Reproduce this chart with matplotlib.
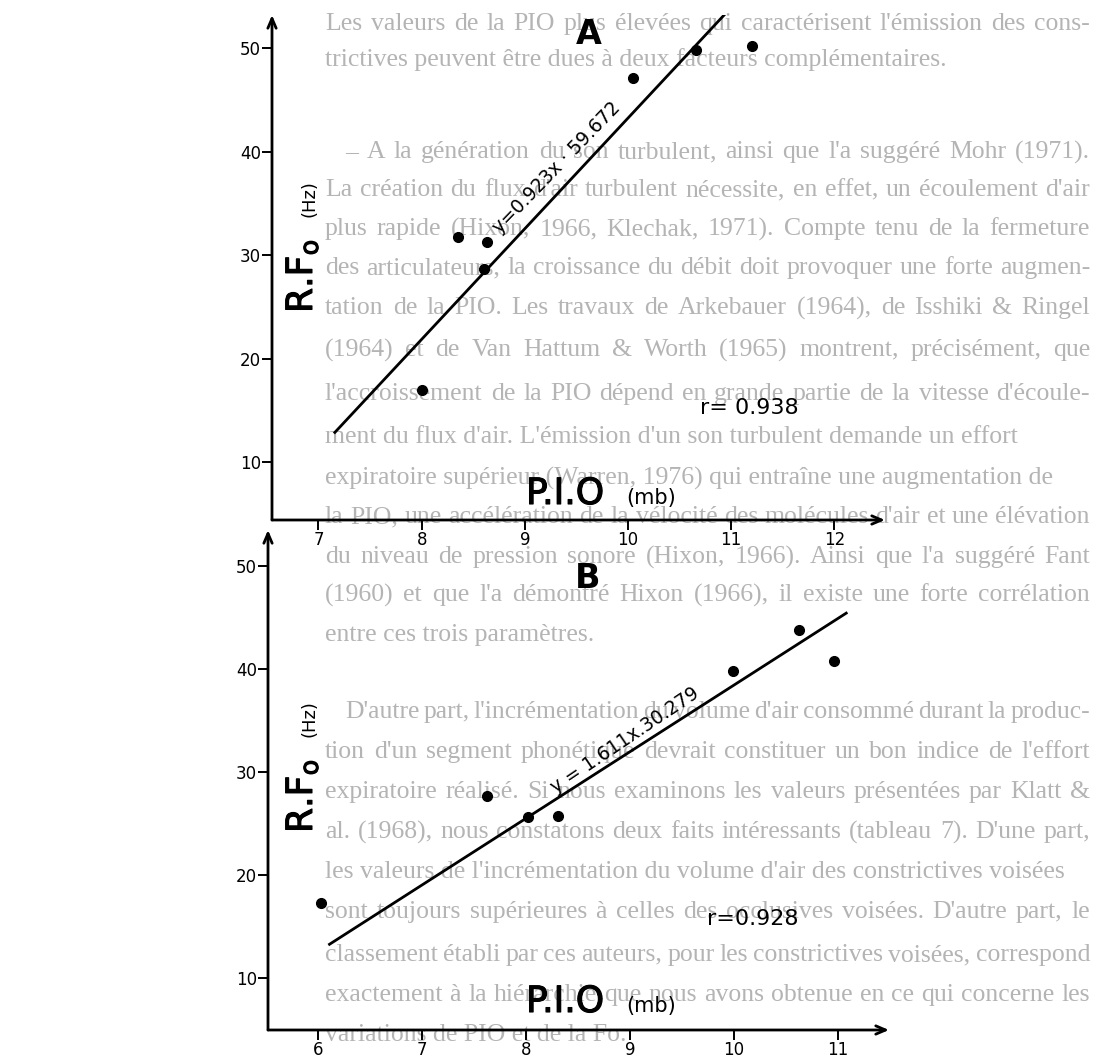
import matplotlib
matplotlib.use("Agg")
import matplotlib.pyplot as plt
import matplotlib.patheffects as pe

W, H = 1096, 1057

# panel A : P.I.O (mb) vs R.Fo (Hz)
a_x = [8.0, 8.35, 8.60, 8.63, 10.05, 10.66, 11.2]
a_y = [17.0, 31.8, 28.7, 31.3, 47.1, 49.8, 50.2]
a_fit_x = [7.15, 10.95]
a_fit_y = [12.8, 53.4]
a_xticks = [7, 8, 9, 10, 11, 12]
a_eq = "y=0.923x · 59.672"
a_r = "r= 0.938"

# panel B
b_x = [6.03, 7.63, 8.02, 8.31, 9.99, 10.62, 10.96]
b_y = [17.3, 27.7, 25.6, 25.7, 39.8, 43.8, 40.8]
b_fit_x = [6.1, 11.09]
b_fit_y = [13.2, 45.5]
b_xticks = [6, 7, 8, 9, 10, 11]
b_eq = "y = 1.611x.30.279"
b_r = "r=0.928"

yticks = [10, 20, 30, 40, 50]

# page text showing through the scan
page_lines = [
    "Les valeurs de la PIO plus élevées qui caractérisent l'émission des cons-",
    "trictives peuvent être dues à deux facteurs complémentaires.",
    "– A la génération du son turbulent, ainsi que l'a suggéré Mohr (1971).",
    "La création du flux d'air turbulent nécessite, en effet, un écoulement d'air",
    "plus rapide (Hixon, 1966, Klechak, 1971). Compte tenu de la fermeture",
    "des articulateurs, la croissance du débit doit provoquer une forte augmen-",
    "tation de la PIO. Les travaux de Arkebauer (1964), de Isshiki & Ringel",
    "(1964) et de Van Hattum & Worth (1965) montrent, précisément, que",
    "l'accroissement de la PIO dépend en grande partie de la vitesse d'écoule-",
    "ment du flux d'air. L'émission d'un son turbulent demande un effort",
    "expiratoire supérieur (Warren, 1976) qui entraîne une augmentation de",
    "la PIO, une accélération de la vélocité des molécules d'air et une élévation",
    "du niveau de pression sonore (Hixon, 1966). Ainsi que l'a suggéré Fant",
    "(1960) et que l'a démontré Hixon (1966), il existe une forte corrélation",
    "entre ces trois paramètres.",
    "D'autre part, l'incrémentation du volume d'air consommé durant la produc-",
    "tion d'un segment phonétique devrait constituer un bon indice de l'effort",
    "expiratoire réalisé. Si nous examinons les valeurs présentées par Klatt &",
    "al. (1968), nous constatons deux faits intéressants (tableau 7). D'une part,",
    "les valeurs de l'incrémentation du volume d'air des constrictives voisées",
    "sont toujours supérieures à celles des occlusives voisées. D'autre part, le",
    "classement établi par ces auteurs, pour les constrictives voisées, correspond",
    "exactement à la hiérarchie que nous avons obtenue en ce qui concerne les",
    "variations de PIO et de la Fo.",
]
page_y = [24, 60, 152, 190, 229, 268, 308, 350, 394, 437, 478, 517, 557, 595,
          635, 712, 752, 792, 832, 872, 912, 955, 995, 1035]
page_left = [325, 325, 345, 325, 325, 325, 325, 325, 325, 325, 325, 325, 325,
             325, 325, 345, 325, 325, 325, 325, 325, 325, 325, 325]
page_right = [1090, None, 1090, 1090, 1090, 1090, 1090, 1090, 1090, None, None,
              1090, 1090, 1090, None, 1090, 1090, 1090, 1090, None, 1090, 1090,
              1090, None]

plt.rcParams['font.family'] = ['DejaVu Sans']

fig = plt.figure(figsize=(W / 100, H / 100), dpi=100)
fig.patch.set_facecolor('white')
renderer = fig.canvas.get_renderer()


def px(x, y):
    return x / W, 1 - y / H


def page_line(text, left, y, right, size=18.5):
    kw = dict(fontsize=size, family='Liberation Serif', color='#b4b4b4',
              va='center', ha='left', zorder=-5)
    if right is None:
        fig.text(*px(left, y), text, **kw)
        return
    words = text.split(' ')
    arts = [fig.text(0, 0, w, **kw) for w in words]
    widths = [t.get_window_extent(renderer).width for t in arts]
    need = sum(widths) + 4 * (len(words) - 1)
    if need > right - left:
        for t in arts:
            t.remove()
        page_line(text, left, y, right, size * (right - left) / need)
        return
    gap = (right - left - sum(widths)) / max(len(words) - 1, 1)
    x = left
    for t, w in zip(arts, widths):
        t.set_position(px(x, y))
        x += w + gap


for t, l, y, r in zip(page_lines, page_left, page_y, page_right):
    page_line(t, l, y, r)


def panel(rect, xlim, ylim, xs, ys, fx, fy, xticks):
    ax = fig.add_axes(rect)
    ax.set_facecolor('none')
    ax.set_xlim(*xlim)
    ax.set_ylim(*ylim)
    for s in ax.spines.values():
        s.set_visible(False)
    for end in [(1, 0), (0, 1)]:
        ax.annotate('', xy=end, xytext=(0, 0), xycoords='axes fraction',
                    arrowprops=dict(arrowstyle='->,head_length=0.7,head_width=0.3',
                                    lw=2, color='black', shrinkA=0, shrinkB=0))
    ax.set_xticks(xticks)
    ax.set_yticks(yticks)
    ax.tick_params(axis='both', direction='out', length=7, width=1.4,
                   labelsize=12, pad=1, colors='black')
    ax.plot(fx, fy, color='black', lw=2, solid_capstyle='butt')
    ax.plot(xs, ys, 'o', color='black', ms=7)
    return ax


ax_a = panel([272 / W, 1 - 520 / H, 613 / W, 505 / H], (6.55, 12.49),
             (4.44, 53.2), a_x, a_y, a_fit_x, a_fit_y, a_xticks)
ax_b = panel([268 / W, 1 - 1030 / H, 621 / W, 500 / H], (5.52, 11.49),
             (4.95, 53.5), b_x, b_y, b_fit_x, b_fit_y, b_xticks)

thick = [pe.withStroke(linewidth=0.8, foreground='black')]

for letter, lpos, eq, eqpos, eqrot, r, rpos, yb, ystart in [
        ('A', (589, 35), a_eq, (557, 168), 46, a_r, (700, 408), 494, 313),
        ('B', (588, 578), b_eq, (625, 740), 34, b_r, (707, 919), 1002, 833)]:
    fig.text(*px(*lpos), letter, fontsize=24, fontweight='bold',
             ha='center', va='center')
    fig.text(*px(*eqpos), eq, fontsize=13.5, rotation=eqrot,
             rotation_mode='anchor', ha='center', va='center')
    fig.text(*px(*rpos), r, fontsize=16, ha='left', va='center')
    # axis titles
    fig.text(*px(526, yb), 'P.I.O', fontsize=26, ha='left', va='center',
             path_effects=thick)
    fig.text(*px(626, yb + 4), '(mb)', fontsize=15, ha='left', va='center')
    fig.text(*px(320, ystart), r'R.F$_\mathregular{o}$', fontsize=26,
             rotation=90, ha='right', va='bottom', path_effects=thick)
    fig.text(*px(319, ystart - 96), '(Hz)', fontsize=13, rotation=90,
             ha='right', va='bottom')

fig.savefig('out.png', dpi=100, facecolor='white')
